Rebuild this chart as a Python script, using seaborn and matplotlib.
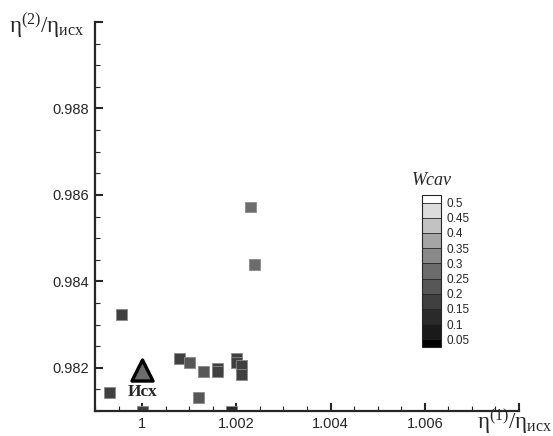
import matplotlib
matplotlib.use('Agg')
from matplotlib import pyplot as plt
from matplotlib.colors import ListedColormap, BoundaryNorm
from matplotlib.cm import ScalarMappable
from matplotlib.ticker import MultipleLocator
import pandas as pd
import seaborn as sns

# variants: eta1/eta_isx, eta2/eta_isx, cavitation volume
eta1 = [0.99930, 0.99957, 1.00000, 1.00079, 1.00100, 1.00130, 1.00119, 1.00160, 1.00160,
        1.00200, 1.00200, 1.00211, 1.00211, 1.00189, 1.00230, 1.00238]
eta2 = [0.98142, 0.98323, 0.98100, 0.98221, 0.98212, 0.98191, 0.98131, 0.98199, 0.98191,
        0.98222, 0.98213, 0.98205, 0.98184, 0.98098, 0.98572, 0.98440]
wcav = [0.17, 0.19, 0.19, 0.17, 0.22, 0.22, 0.22, 0.19, 0.19,
        0.19, 0.19, 0.19, 0.19, 0.12, 0.27, 0.27]

# initial design
base_eta1 = [1.0]
base_eta2 = [0.98195]
base_wcav = [0.27]

levels = [0.05, 0.1, 0.15, 0.2, 0.25, 0.3, 0.35, 0.4, 0.45, 0.5]
level_labels = ['0.05', '0.1', '0.15', '0.2', '0.25', '0.3', '0.35', '0.4', '0.45', '0.5']
grays = ['#000000', '#1a1a1a', '#2a2a2a', '#404040', '#575757', '#6c6c6c',
         '#8a8a8a', '#a5a5a5', '#c2c2c2', '#dcdcdc', '#ffffff']

sns.set_style('ticks')
plt.rcParams['font.family'] = ['Liberation Sans', 'DejaVu Sans']
plt.rcParams['mathtext.fontset'] = 'custom'
plt.rcParams['mathtext.rm'] = 'Liberation Serif'
plt.rcParams['mathtext.it'] = 'Liberation Serif:italic'
plt.rcParams['mathtext.bf'] = 'Liberation Serif:bold'

cmap = ListedColormap(grays)
norm = BoundaryNorm(levels, cmap.N, extend='both')

df = pd.DataFrame({'eta1': eta1, 'eta2': eta2, 'wcav': wcav})
base = pd.DataFrame({'eta1': base_eta1, 'eta2': base_eta2, 'wcav': base_wcav})

fig = plt.figure(figsize=(5.53, 4.36), dpi=100)
ax = fig.add_axes([0.1718, 0.0573, 0.7667, 0.8922])

sns.scatterplot(data=df, x='eta1', y='eta2', hue='wcav', palette=cmap, hue_norm=norm,
                marker='s', s=62, edgecolor='#8a8a8a', linewidth=0.6, legend=False, ax=ax)
sns.scatterplot(data=base, x='eta1', y='eta2', hue='wcav', palette=cmap, hue_norm=norm,
                marker='^', s=230, edgecolor='black', linewidth=2.4, legend=False, ax=ax,
                zorder=5)
ax.text(1.0, 0.98144, 'Исх', ha='center', va='center', fontsize=12.5,
        fontweight='bold', family='Liberation Serif')

ax.set_xlim(0.999, 1.008)
ax.set_ylim(0.981, 0.990)
ax.set_xticks([1.0, 1.002, 1.004, 1.006, 1.008])
ax.set_xticklabels(['1', '1.002', '1.004', '1.006', ''])
ax.set_yticks([0.982, 0.984, 0.986, 0.988, 0.990])
ax.set_yticklabels(['0.982', '0.984', '0.986', '0.988', ''])
ax.xaxis.set_minor_locator(MultipleLocator(0.0005))
ax.yaxis.set_minor_locator(MultipleLocator(0.0005))
ax.tick_params(which='major', direction='in', length=6, width=1.5, labelsize=10.5, pad=4)
ax.tick_params(which='minor', direction='in', length=3.5, width=0.8)
sns.despine(ax=ax)
for side in ['left', 'bottom']:
    ax.spines[side].set_linewidth(1.6)
ax.set_xlabel('')
ax.set_ylabel('')

fig.text(0.9995, 0.033, r'$\mathrm{η^{(1)}/η_{исх}}$', ha='right', va='center', fontsize=16.5)
fig.text(0.016, 0.94, r'$\mathrm{η^{(2)}/η_{исх}}$', ha='left', va='center', fontsize=16.5)

cax = fig.add_axes([0.763, 0.204, 0.0344, 0.349])
cb = fig.colorbar(ScalarMappable(norm=norm, cmap=cmap), cax=cax, extend='both',
                  extendrect=True, extendfrac=0.056, drawedges=True)
cb.set_ticks(levels)
cb.set_ticklabels(level_labels)
cb.ax.tick_params(length=0, labelsize=8.5, pad=4)
cb.outline.set_linewidth(0.8)
cb.dividers.set_linewidth(0.6)
fig.text(0.781, 0.587, 'Wcav', ha='center', va='center', fontsize=13,
         style='italic', family='Liberation Serif')

fig.savefig('out.png', dpi=100)
